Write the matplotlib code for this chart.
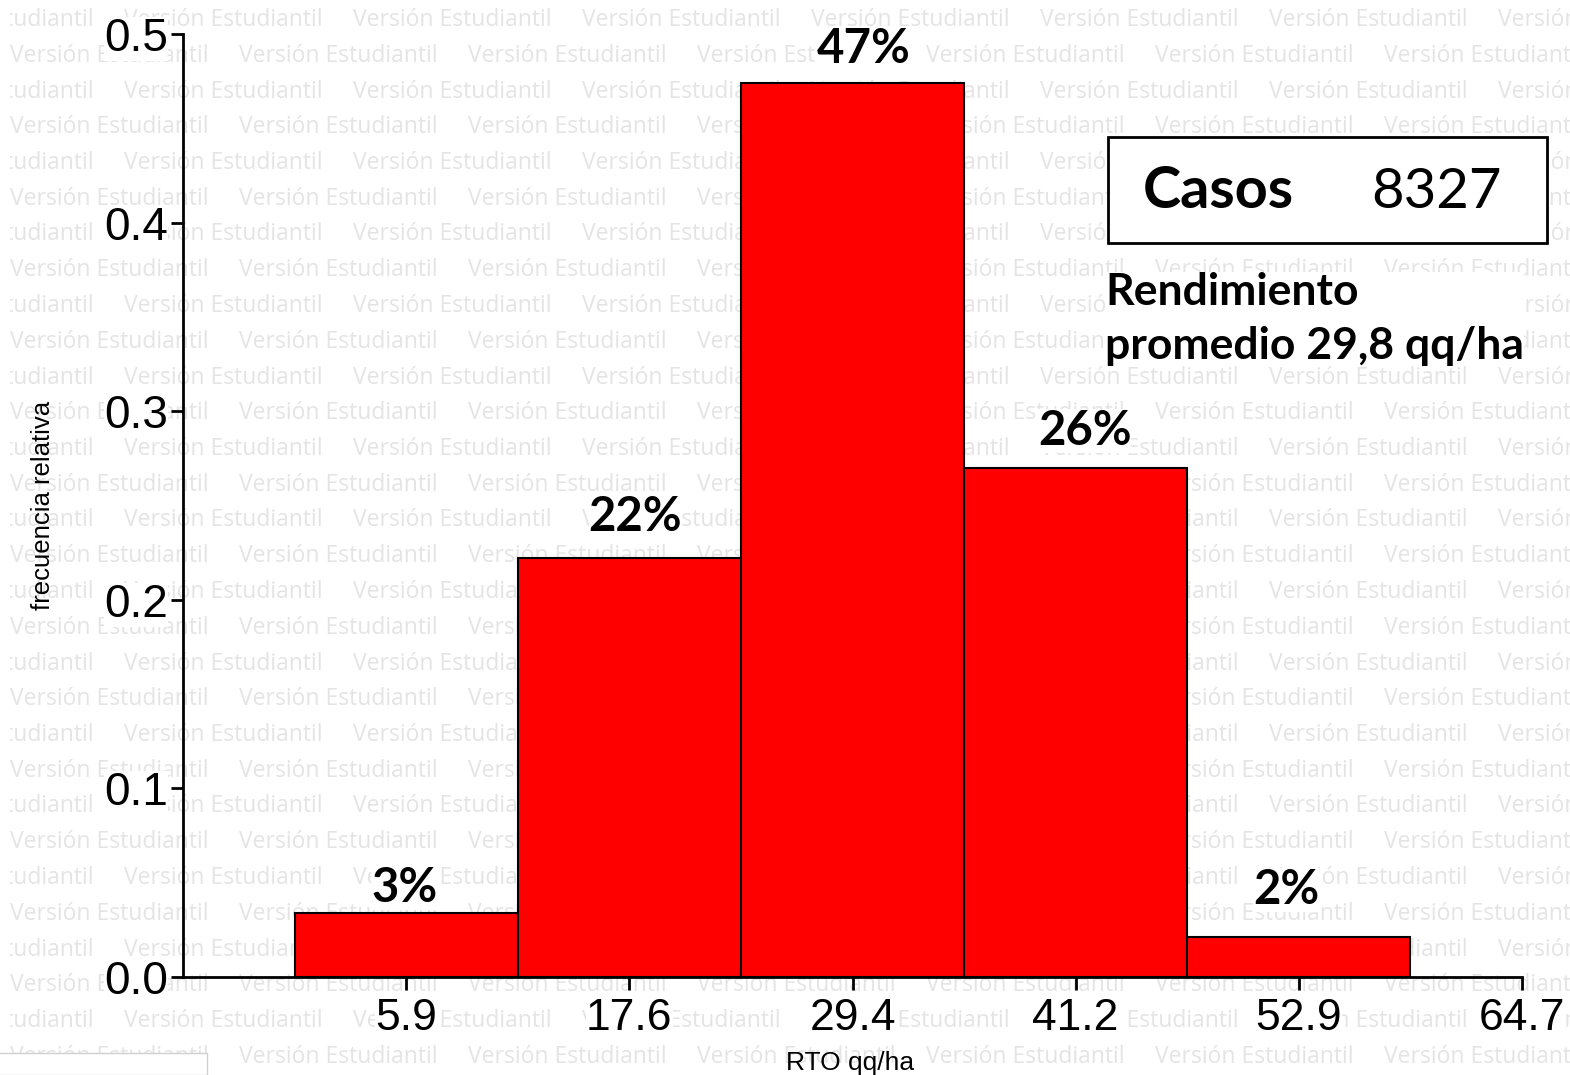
import matplotlib
matplotlib.use("Agg")
import matplotlib.pyplot as plt
from matplotlib.patches import Rectangle
from matplotlib.transforms import Bbox

# ---------------- data ----------------
bin_centers = [5.88, 17.64, 29.40, 41.16, 52.92]
rel_freq = [0.034, 0.222, 0.474, 0.270, 0.021]
pct_labels = ["3%", "22%", "47%", "26%", "2%"]
bin_width = 11.76
xtick_values = [5.88, 17.64, 29.40, 41.16, 52.92, 64.68]
xtick_labels = ["5.9", "17.6", "29.4", "41.2", "52.9", "64.7"]
ytick_values = [0.0, 0.1, 0.2, 0.3, 0.4, 0.5]
ytick_labels = ["0.0", "0.1", "0.2", "0.3", "0.4", "0.5"]
casos = 8327
rend_text = "Rendimiento\npromedio 29,8 qq/ha"
watermark = "Versión Estudiantil"

# ---------------- layout ----------------
W, H = 1570, 1075
fig = plt.figure(figsize=(W / 100, H / 100), dpi=100)
fig.patch.set_facecolor("white")

def fx(px):
    return px / W

def fy(py):
    return 1 - py / H

# watermark tiling (clipped at left margin)
clip = Bbox.from_extents(10, 0, W, H)
row_y0, row_step = 20, 35.75
col_step = 229
for r in range(31):
    y = row_y0 + r * row_step
    x = -105 if r % 2 == 0 else 10
    while x < W:
        t = fig.text(fx(x), fy(y), watermark, fontsize=16.5, family="Open Sans",
                     color="#e4e4e4", ha="left", va="center", zorder=-5)
        t.set_clip_box(clip)
        t.set_clip_on(True)
        x += col_step

ax = fig.add_axes([fx(183), fy(977), fx(1522) - fx(183), fy(34) - fy(977)])
ax.set_facecolor("none")

ax.bar(bin_centers, rel_freq, width=bin_width, color="#ff0000",
       edgecolor="black", linewidth=1.5, zorder=2)

label_dy = [3, 19, 12, 15, 25]   # pixel gaps above bars
label_dx = [-2, 6, 11, 9, -12]
for xc, v, lab, dy, dx in zip(bin_centers, rel_freq, pct_labels, label_dy, label_dx):
    ax.annotate(lab, (xc, v), xytext=(dx * 0.72, dy * 0.72), textcoords="offset points",
                ha="center", va="bottom", fontsize=34, fontweight="bold",
                family="Lato", color="black", zorder=4,
                bbox=dict(facecolor="white", edgecolor="none", pad=0))

ax.set_xlim(-5.88, 64.68)
ax.set_ylim(0, 0.5)
ax.set_xticks(xtick_values)
ax.set_xticklabels(xtick_labels)
ax.set_yticks(ytick_values)
ax.set_yticklabels(ytick_labels)
for s in ["top", "right"]:
    ax.spines[s].set_visible(False)
for s in ["left", "bottom"]:
    ax.spines[s].set_linewidth(2)
ax.tick_params(axis="both", direction="out", length=9, width=2)
ax.tick_params(axis="x", labelsize=32, pad=6)
ax.tick_params(axis="y", labelsize=33, pad=2)
for lbl in ax.get_xticklabels() + ax.get_yticklabels():
    lbl.set_family("Liberation Sans")
    lbl.set_bbox(dict(facecolor="white", edgecolor="none", pad=0))

ax.set_ylabel("frecuencia relativa", fontsize=18.5, family="Liberation Sans")
ax.yaxis.set_label_coords(-(183 - 43) / (1522 - 183), 0.5)
ax.yaxis.label.set_va("center")
fig.text(fx(850), fy(1063), "RTO qq/ha", fontsize=19, family="Liberation Sans",
         ha="center", va="center")

# Casos box
fig.patches.append(Rectangle((fx(1108), fy(243)), fx(1547) - fx(1108), fy(137) - fy(243),
                             transform=fig.transFigure, facecolor="white",
                             edgecolor="black", linewidth=2, zorder=3))
fig.text(fx(1143), fy(192), "Casos", fontsize=41.5, fontweight="bold", family="Lato",
         ha="left", va="center", zorder=4)
fig.text(fx(1502), fy(192), str(casos), fontsize=40.5, family="Lato",
         ha="right", va="center", zorder=4)
fig.text(fx(1105), fy(319), rend_text, fontsize=32, fontweight="bold", family="Lato",
         ha="left", va="center", linespacing=1.45, zorder=4,
         bbox=dict(facecolor="white", edgecolor="none", pad=0))

# small box bottom left
fig.patches.append(Rectangle((fx(-2), 0), fx(209), fy(1053), transform=fig.transFigure,
                             facecolor="white", edgecolor="#d0d0d0", linewidth=1, zorder=3))

fig.savefig("out.png", dpi=100, facecolor="white")
